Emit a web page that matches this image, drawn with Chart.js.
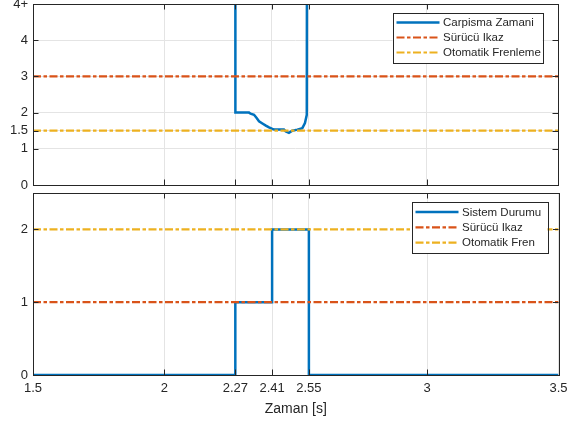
<!DOCTYPE html>
<html><head><meta charset="utf-8">
<script src="https://cdn.jsdelivr.net/npm/chart.js@4/dist/chart.umd.min.js"></script>
<style>
html,body{margin:0;padding:0;background:#fff;width:580px;height:423px;overflow:hidden}
canvas{position:absolute;left:0}
#c1{top:0}
#c2{top:190px}
</style></head><body>
<canvas id="c1" width="580" height="190"></canvas>
<canvas id="c2" width="580" height="233"></canvas>
<script>
// ---- data ----
const xMin = 1.5, xMax = 3.5;
const xTicks = [1.5, 2, 2.27, 2.41, 2.55, 3, 3.5];
const xTickLabels = ['1.5', '2', '2.27', '2.41', '2.55', '3', '3.5'];

const topYTicks = [0, 1, 1.5, 2, 3, 4, 5];
const topYTickLabels = ['0', '1', '1.5', '2', '3', '4', '4+'];
const bottomYTicks = [0, 1, 2];
const bottomYTickLabels = ['0', '1', '2'];

// Carpisma Zamani (time to collision), values above 5 are shown as "4+"
const ttcTime  = [2.2705, 2.271, 2.30, 2.323, 2.329, 2.342, 2.352, 2.361, 2.374, 2.387, 2.399, 2.412, 2.419, 2.44, 2.456, 2.463, 2.475, 2.488, 2.507, 2.526, 2.536, 2.543, 2.5455];
const ttcValue = [20, 2.0, 2.0, 2.0, 1.97, 1.94, 1.85, 1.76, 1.70, 1.64, 1.59, 1.55, 1.53, 1.53, 1.53, 1.48, 1.44, 1.50, 1.53, 1.57, 1.71, 1.94, 20];
const ttcWarn = 3;     // Sürücü Ikaz
const ttcBrake = 1.5;  // Otomatik Frenleme

// Sistem Durumu (step)
const stateTime  = [1.5, 2.27, 2.41, 2.55, 3.5];
const stateValue = [0, 1, 2, 0, 0];
const stateWarn = 1;   // Sürücü Ikaz
const stateBrake = 2;  // Otomatik Fren

// ---- styling ----
const BLUE = '#0072BD', ORANGE = '#D95319', YELLOW = '#EDB120';
const TXT = '#262626', GRID = '#e4e4e4';
const FONT = '"Liberation Sans", Arial, Helvetica, sans-serif';
const DASHDOT = [8, 2.5, 3.5, 2.5];

const boxPlugin = {
  id: 'boxPlugin',
  afterDatasetsDraw(chart, args, opts) {
    const ctx = chart.ctx, a = chart.chartArea;
    const xs = chart.scales.x, ys = chart.scales.y;
    ctx.save();
    ctx.strokeStyle = TXT; ctx.lineWidth = 1;
    ctx.beginPath();
    const L = 5.5;
    xs.ticks.forEach(t => {
      const px = Math.round(xs.getPixelForValue(t.value)) + 0.5;
      ctx.moveTo(px, a.bottom); ctx.lineTo(px, a.bottom - L);
      ctx.moveTo(px, a.top); ctx.lineTo(px, a.top + L);
    });
    ys.ticks.forEach(t => {
      const py = Math.round(ys.getPixelForValue(t.value)) + 0.5;
      ctx.moveTo(a.left, py); ctx.lineTo(a.left + L, py);
      ctx.moveTo(a.right, py); ctx.lineTo(a.right - L, py);
    });
    ctx.stroke();
    ctx.strokeRect(Math.round(a.left) + 0.5, Math.round(a.top) + 0.5, Math.round(a.right - a.left), Math.round(a.bottom - a.top));
    // legend
    const lg = opts.legend;
    if (lg) {
      const bx = a.right - lg.right - lg.width, by = a.top + lg.top;
      ctx.fillStyle = '#fff';
      ctx.fillRect(bx, by, lg.width, lg.height);
      ctx.strokeStyle = TXT; ctx.lineWidth = 1;
      ctx.strokeRect(Math.round(bx) + 0.5, Math.round(by) + 0.5, Math.round(lg.width), Math.round(lg.height));
      ctx.font = '11.5px ' + FONT;
      ctx.textBaseline = 'middle'; ctx.textAlign = 'left';
      chart.data.datasets.forEach((ds, i) => {
        const y = by + lg.firstRow + i * lg.rowGap;
        ctx.save();
        ctx.strokeStyle = ds.borderColor; ctx.lineWidth = ds.borderWidth;
        ctx.setLineDash(ds.borderDash || []);
        ctx.beginPath(); ctx.moveTo(bx + 4, y); ctx.lineTo(bx + 47, y); ctx.stroke();
        ctx.restore();
        ctx.fillStyle = TXT;
        ctx.fillText(ds.label, bx + 50.5, y + 0.5);
      });
    }
    ctx.restore();
  }
};

function xScale(showLabels) {
  return {
    type: 'linear', min: xMin, max: xMax,
    afterBuildTicks: s => { s.ticks = xTicks.map(v => ({ value: v })); },
    afterFit: s => { s.height = showLabels ? 48 : 0; s.paddingLeft = 0; s.paddingRight = 0; },
    grid: { color: GRID, lineWidth: 1, drawTicks: false },
    border: { display: false },
    ticks: {
      display: showLabels, autoSkip: false, maxRotation: 0, padding: 6,
      color: TXT, font: { family: FONT, size: 13 },
      callback: (v, i) => xTickLabels[i]
    },
    title: showLabels ? {
      display: true, text: 'Zaman [s]', color: TXT,
      font: { family: FONT, size: 14 }, padding: { top: 0, bottom: 5 }
    } : { display: false }
  };
}
function yScale(max, ticks, labels, grid) {
  return {
    type: 'linear', min: 0, max: max,
    afterBuildTicks: s => { s.ticks = ticks.map(v => ({ value: v })); },
    afterFit: s => { s.width = 33; s.paddingTop = 0; s.paddingBottom = 0; },
    grid: { color: GRID, lineWidth: 1, drawTicks: false, display: grid },
    border: { display: false },
    ticks: {
      autoSkip: false, padding: 5, color: TXT, font: { family: FONT, size: 13 },
      callback: (v, i) => labels[i]
    }
  };
}
function hline(label, color, y, order) {
  return {
    label, data: [{ x: xMin, y }, { x: xMax, y }],
    borderColor: color, borderWidth: 2.2, borderDash: DASHDOT,
    pointRadius: 0, fill: false, order
  };
}
const common = {
  responsive: false, animation: false,
  plugins: { legend: { display: false }, tooltip: { enabled: false } },
  elements: { line: { tension: 0 } }
};

new Chart(document.getElementById('c1'), {
  type: 'line',
  data: {
    datasets: [
      { label: 'Carpisma Zamani', data: ttcTime.map((t, i) => ({ x: t, y: ttcValue[i] })),
        borderColor: BLUE, borderWidth: 2.5, pointRadius: 0, fill: false, order: 2, clip: 0 },
      hline('Sürücü Ikaz', ORANGE, ttcWarn, 1),
      hline('Otomatik Frenleme', YELLOW, ttcBrake, 0)
    ]
  },
  options: Object.assign({}, common, {
    layout: { padding: { top: 4, right: 22, bottom: 5, left: 0 } },
    scales: { x: xScale(false), y: yScale(5, topYTicks, topYTickLabels, true) },
    plugins: Object.assign({}, common.plugins, {
      boxPlugin: { legend: { right: 15.5, top: 9, width: 150, height: 50, firstRow: 9.5, rowGap: 15 } }
    })
  }),
  plugins: [boxPlugin]
});

new Chart(document.getElementById('c2'), {
  type: 'line',
  data: {
    datasets: [
      { label: 'Sistem Durumu', data: stateTime.map((t, i) => ({ x: t, y: stateValue[i] })),
        borderColor: BLUE, borderWidth: 2.5, pointRadius: 0, fill: false, stepped: 'before', order: 2 },
      hline('Sürücü Ikaz', ORANGE, stateWarn, 1),
      hline('Otomatik Fren', YELLOW, stateBrake, 0)
    ]
  },
  options: Object.assign({}, common, {
    layout: { padding: { top: 3, right: 21.5, bottom: 0, left: 0 } },
    scales: { x: xScale(true), y: yScale(2.5, bottomYTicks, bottomYTickLabels, false) },
    plugins: Object.assign({}, common.plugins, {
      boxPlugin: { legend: { right: 11, top: 9, width: 136, height: 51, firstRow: 10, rowGap: 15.3 } }
    })
  }),
  plugins: [boxPlugin]
});
</script>
</body></html>
